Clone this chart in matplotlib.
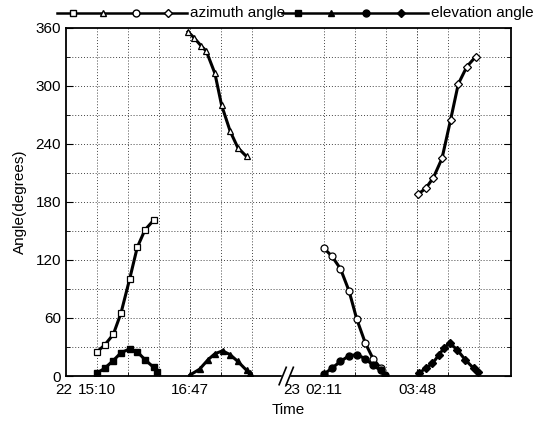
import numpy as np
import matplotlib
matplotlib.use('Agg')
import matplotlib.pyplot as plt
from matplotlib.lines import Line2D

plt.rcParams['font.family'] = ['Liberation Sans', 'DejaVu Sans']

# minutes after 22 15:10 (first pass) and after 23 02:11 (second pass)
pass1_az_t = [0, 8, 17, 25, 34, 42, 50, 59]
pass1_az = [25, 32, 43, 65, 100, 133, 151, 161]
pass1_el_t = [0, 8, 17, 25, 34, 42, 50, 59, 63]
pass1_el = [3, 8, 16, 24, 28, 25, 17, 9, 4]

pass2_az_t = [95, 101, 109, 114, 123, 130, 139, 147, 156]
pass2_az = [356, 350, 341, 336, 313, 280, 253, 236, 227]
pass2_el_t = [97, 107, 116, 123, 131, 139, 147, 156, 160]
pass2_el = [1, 7, 17, 23, 26, 22, 15, 6, 3]

pass3_az_t = [0, 8, 17, 26, 34, 43, 51, 59]
pass3_az = [132, 124, 111, 88, 59, 34, 18, 8]
pass3_el_t = [0, 8, 17, 26, 34, 43, 51, 59, 64]
pass3_el = [2, 8, 15, 21, 22, 18, 11, 6, 1]

pass4_az_t = [98, 106, 114, 123, 132, 140, 149, 158]
pass4_az = [188, 194, 205, 225, 265, 302, 320, 330]
pass4_el_t = [99, 106, 113, 120, 125, 131, 139, 147, 156, 161]
pass4_el = [3, 8, 13, 22, 29, 34, 27, 17, 8, 4]

tick_times = ['15:10', '16:47', '02:11', '03:48']
tick_days = ['22', '23']

# axis position of 23 02:11 (the time axis is broken between the two days)
shift = 237
step = 97 / 3

fig = plt.figure(figsize=(5.42, 4.22), dpi=100)
ax = fig.add_axes([0.1218, 0.109, 0.821, 0.825])

day1 = [(pass1_az_t, pass1_az, pass1_el_t, pass1_el, 's'),
        (pass2_az_t, pass2_az, pass2_el_t, pass2_el, '^')]
day2 = [(pass3_az_t, pass3_az, pass3_el_t, pass3_el, 'o'),
        (pass4_az_t, pass4_az, pass4_el_t, pass4_el, 'D')]


def msize(m):
    return 4.2 if m == 'D' else 5.0


for off, passes in [(0, day1), (shift, day2)]:
    for at, az, et, el, m in passes:
        ax.plot(np.array(at) + off, az, color='black', lw=2.2, marker=m,
                ms=msize(m), mfc='white', mec='black', mew=0.9)
        ax.plot(np.array(et) + off, el, color='black', lw=2.2, marker=m,
                ms=msize(m), mfc='black', mec='black')

ax.set_xlim(-step, 432)
ax.set_ylim(0, 360)

major = [0, 97, shift, shift + 97]
ax.set_xticks(major)
ax.set_xticklabels(tick_times, fontsize=11)
minor = [step * k for k in range(1, 6)] + [shift + step * k for k in range(1, 6)]
ax.set_xticks(minor, minor=True)
ax.set_yticks(np.arange(0, 361, 60))
ax.set_yticks(np.arange(0, 361, 30), minor=True)
ax.tick_params(labelsize=11)
ax.tick_params(which='both', direction='in', right=True)
ax.tick_params(which='major', length=5)
ax.tick_params(which='minor', length=3)
ax.tick_params(axis='x', which='major', pad=5)

for x in sorted(major + minor):
    ax.axvline(x, color='#444444', lw=0.7, ls=(0, (1, 2)), zorder=0)
for y in np.arange(30, 360, 30):
    ax.axhline(y, color='#444444', lw=0.7, ls=(0, (1, 2)), zorder=0)

for s in ax.spines.values():
    s.set_linewidth(1.3)

# date prefixes left of the first tick of each day
for x, d in zip([0, shift], tick_days):
    ax.annotate(d, xy=(x, 0), xycoords=('data', 'axes fraction'),
                xytext=(-17.5, -5), textcoords='offset points',
                ha='right', va='top', fontsize=11)

# axis break marks
bx = 197
px = ax.transData.transform((bx, 0))
fx = ax.transAxes.inverted().transform(px)[0]
ax.add_patch(plt.Rectangle((fx - 0.008, -0.01), 0.016, 0.02,
                           transform=ax.transAxes, color='white',
                           clip_on=False, zorder=5))
for dx in (-0.011, 0.005):
    ax.plot([fx + dx - 0.004, fx + dx + 0.012], [-0.025, 0.025],
            transform=ax.transAxes, color='black', lw=1.2, clip_on=False, zorder=6)

ax.set_xlabel('Time', fontsize=11, labelpad=4)
ax.set_ylabel('Angle(degrees)', fontsize=11, labelpad=6)

# legend row above the plot
ly = 0.969
fig.add_artist(Line2D([0.105, 0.345], [ly, ly], color='black', lw=1.8))
for x, m in zip([0.135, 0.19, 0.251, 0.31], ['s', '^', 'o', 'D']):
    fig.add_artist(Line2D([x], [ly], marker=m, ms=msize(m),
                          mfc='white', mec='black', color='black'))
fig.text(0.35, ly, 'azimuth angle', fontsize=11, va='center', ha='left')
fig.add_artist(Line2D([0.52, 0.79], [ly, ly], color='black', lw=1.8))
for x, m in zip([0.55, 0.61, 0.675, 0.74], ['s', '^', 'o', 'D']):
    fig.add_artist(Line2D([x], [ly], marker=m, ms=msize(m),
                          mfc='black', mec='black', color='black'))
fig.text(0.795, ly, 'elevation angle', fontsize=11, va='center', ha='left')

fig.savefig('out.png', dpi=100)
